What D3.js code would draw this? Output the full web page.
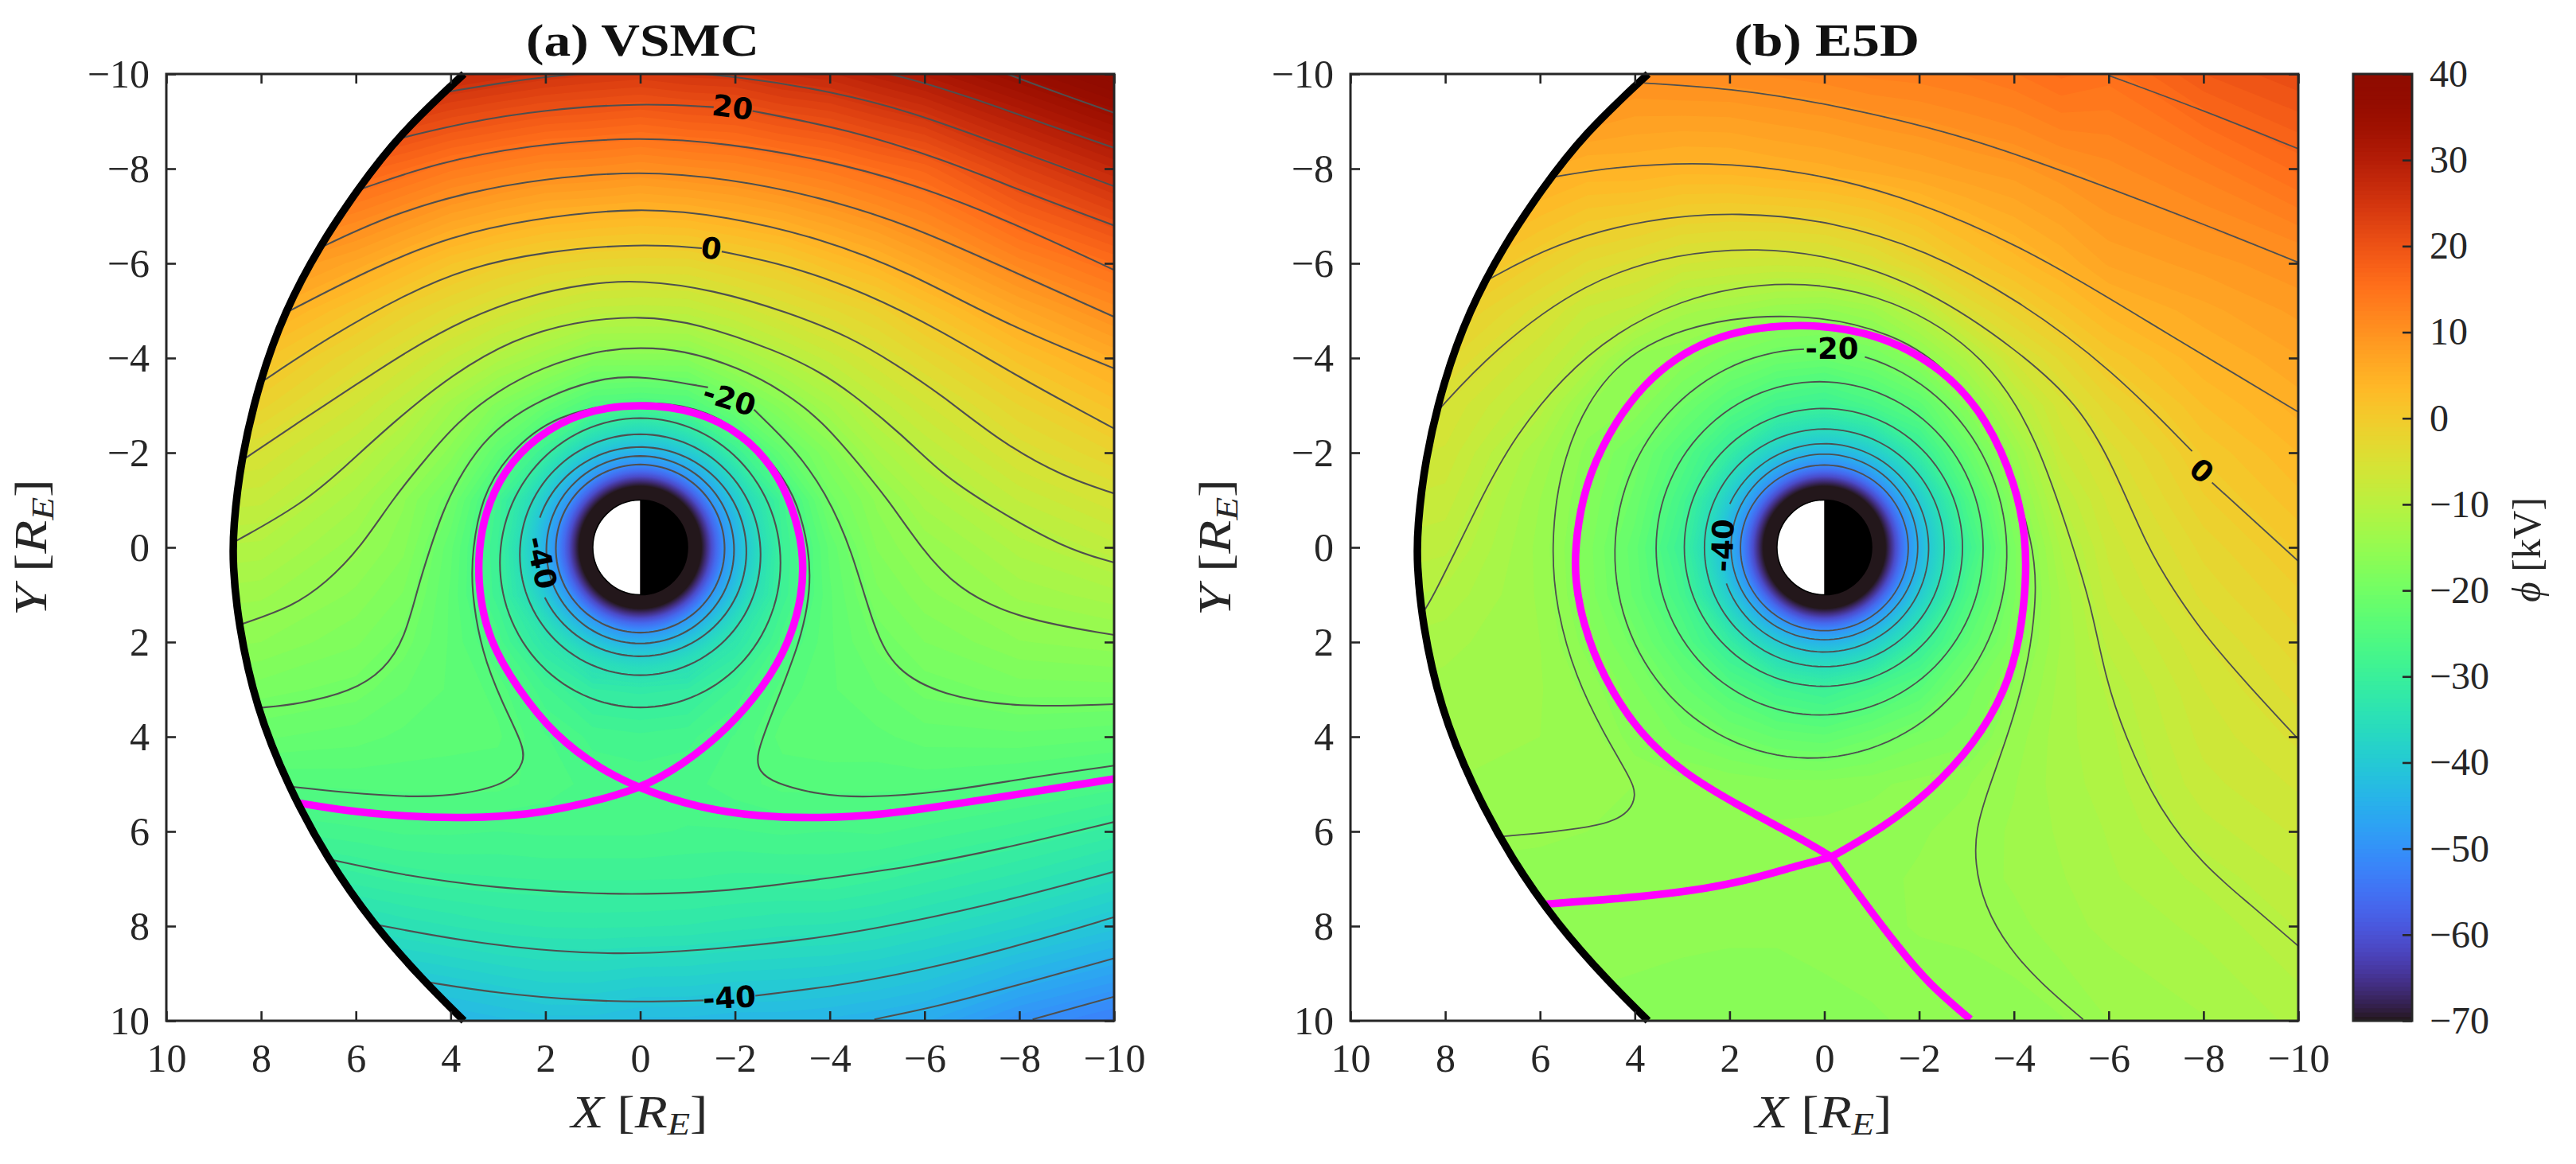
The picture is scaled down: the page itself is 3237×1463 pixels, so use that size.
<!DOCTYPE html>
<html><head><meta charset="utf-8">
<script src="https://cdn.jsdelivr.net/npm/d3@7"></script>
<style>
html,body{margin:0;padding:0;background:#fff;overflow:hidden}
text{font-family:"Liberation Serif",serif;fill:#262626}
</style></head><body>
<svg id="chart" width="3237" height="1463" viewBox="0 0 3237 1463"></svg>
<script>
// ---------- axes and tick values ----------
const tickValuesXY = [-10,-8,-6,-4,-2,0,2,4,6,8,10];
const colorTicks = [-70,-60,-50,-40,-30,-20,-10,0,10,20,30,40];
const colorDomain = [-70,40];
// ---------- potential phi [kV], one array per X node, in gridY order ----------
const gridX = [10,8,6,5,4,3,2,1,0,-1,-2,-3,-4,-5,-6,-8,-10];
const gridY = [-10,-8,-6,-5,-4,-3,-2,-1,0,1,2,3,4,5,6,7,8,10];
const fieldA = [
[34,24,13,8,3.5,0,-4,-7.5,-10.5,-13,-15.5,-18,-21,-24,-28,-33,-38,-50],
[30,20,10,6,1.7,-1.5,-5.3,-8.2,-11.1,-13.7,-16.2,-19,-21.5,-25,-28.5,-33,-38,-50],
[28,17.5,6.5,1.2,-2.9,-6.4,-9.7,-12.5,-14.7,-16.5,-18.2,-20,-22.3,-24.7,-27.5,-31,-35.8,-46],
[29,15.8,4,-1.3,-5.4,-9.3,-12.7,-16,-17,-18.5,-20,-21.6,-23.1,-24.6,-27,-30.2,-34.6,-45],
[27.5,13.8,1.5,-3.5,-8.2,-13.5,-16.7,-20.4,-22.5,-23,-23,-23,-23.5,-24.5,-27,-29.7,-33.8,-44],
[26.4,12.5,-.3,-5.5,-11.3,-17.8,-23,-28.5,-29.5,-29,-26.5,-24.3,-23.7,-24.6,-27.2,-29.5,-33,-43],
[25.4,11.3,-1.6,-7.5,-13.9,-21.6,-29.5,-39.5,-44.5,-41,-33.4,-28,-26,-25.5,-27,-29.3,-32.6,-42],
[24.7,11,-2.4,-9,-17,-25.6,-38,-70,-70,-70,-41,-31.5,-27.5,-26.5,-27,-29.3,-32.5,-42],
[24.2,10.3,-2.7,-9.3,-16.9,-26.5,-43.5,-70,-70,-70,-45.6,-32,-28,-26.5,-27,-29.3,-32.6,-43],
[25,11,-2.6,-9,-17,-25.6,-38,-70,-70,-70,-41,-31.5,-27.5,-26.5,-27.3,-29.4,-32.8,-43],
[25.3,11.6,-1.2,-7.2,-13.7,-20.9,-29.5,-39.5,-44.5,-41,-33.4,-28,-26,-25.5,-27.3,-29.7,-33.3,-43.5],
[26.8,12.8,0,-5.1,-10.6,-16.6,-22.3,-28.5,-29.5,-29,-26.5,-24.5,-23.5,-24.6,-27,-29.7,-33.8,-43.5],
[27.6,14,2.2,-3.3,-8,-12.7,-17.2,-20,-22.5,-23,-23,-23,-23.2,-24.5,-27.2,-29.5,-34,-44],
[29.5,15.7,4.2,-1.4,-5.4,-9.2,-12.4,-15.9,-17.2,-18.7,-20.3,-21.7,-23.1,-24.6,-27,-30.3,-34.6,-44.8],
[31.4,17.2,6.8,1.4,-2.9,-6.5,-9.7,-12.4,-14.9,-16.6,-18.4,-20.2,-22.3,-24.6,-27.6,-31.2,-35.7,-45.7],
[35.7,23,11.8,6.5,1.9,-1.9,-5,-8.4,-11.3,-13.7,-16.3,-19,-22,-25.4,-29,-33.2,-38,-50],
[40,27.7,15.7,10.7,5.9,1.9,-1.9,-5.5,-8.9,-12.2,-15.5,-18.9,-22.6,-26.6,-31,-35.8,-41,-53]
];
const fieldB = [
[18,12,5,2,-1,-4,-5.5,-7,-8.5,-10,-11.5,-12.5,-13.5,-14,-14.5,-15,-15.5,-16.5],
[16,10,3,0,-2.6,-5.2,-6.5,-7.9,-9.3,-11,-12.5,-13.3,-13.7,-14,-14.8,-15.3,-15.5,-16.5],
[14,6,-1,-4.7,-7.6,-10,-12.9,-14,-14.4,-14.2,-14,-13.9,-14,-14.2,-15,-15.3,-15.4,-16.4],
[12.5,4.7,-3.2,-7.8,-10.6,-15,-16.7,-17.4,-17.9,-17.7,-16.7,-15.4,-14.3,-14.3,-15.1,-15.2,-15.4,-16.6],
[10.6,4.8,-4.5,-8.9,-15.6,-16.3,-19.8,-21,-22.4,-22,-20,-18,-16.9,-15.1,-15.2,-15.3,-15.6,-16.8],
[11,4.2,-6.2,-12.5,-16.4,-20.4,-24.7,-27.5,-29.5,-27.5,-24.7,-21.3,-18.8,-15.8,-15.4,-15.5,-15.8,-17],
[11.1,4.3,-6.8,-13.6,-19,-24.5,-31,-39.5,-44,-39.5,-31,-24.8,-20.3,-16.4,-15.8,-15.7,-15.9,-17.2],
[11.5,5,-7.1,-15,-20.8,-28,-40,-70,-70,-70,-40,-28,-21.9,-16.8,-16,-15.8,-15.9,-17.2],
[12,5.5,-6.7,-15.4,-21.4,-29.4,-43,-70,-70,-70,-44,-29.5,-22.5,-16.8,-15.9,-15.6,-15.6,-16.8],
[12.7,6.3,-5,-13.9,-19.8,-26.9,-39.5,-70,-70,-70,-39.5,-27,-20.8,-16.5,-15.6,-15.3,-15.4,-16.4],
[13,7.1,-2.2,-9.8,-16.4,-23.4,-31,-39.5,-44,-39.5,-31,-24,-18.9,-15.8,-15.2,-15,-15,-15.9],
[13.6,8,.8,-4.5,-11.4,-16.9,-21.6,-26.5,-29.5,-26.5,-23,-19,-17.9,-15.2,-14.8,-14.7,-14.9,-15.7],
[14.5,8.7,3,-1.4,-6,-10.3,-14.4,-16.9,-18.7,-18.6,-17.5,-16,-14.7,-14.1,-13.8,-13.8,-14.4,-15.7],
[16,9.9,4.9,1.5,-2.7,-5.6,-7.4,-9.6,-11.6,-12.7,-12.8,-12.4,-12.2,-12.3,-12.7,-13,-13.3,-15.2],
[15.1,10.9,7.1,4,.7,-2.4,-4.7,-6,-7.1,-8,-9.3,-10.5,-11,-11.3,-11.7,-12,-12.6,-14],
[19,13,8.5,6.5,4.5,2.5,.5,-1,-2.6,-3.8,-5.3,-6.3,-7,-7.8,-9,-10.4,-11.5,-13],
[21,16,10,8.3,6.8,5.2,3.6,2.1,.5,-1,-2.3,-3.6,-4.9,-6.1,-7.2,-8.4,-9.5,-11.5]
];
// radial profile close to the Earth
const innerRadiiA  = [1,1.29,1.4,1.5,1.6,1.7,1.76,1.98,2.23,2.54,2.95];
const innerValuesA = [-70,-70,-66,-61,-56.5,-52.5,-50,-45,-40,-35,-30];
const innerRadiiB  = [1,1.29,1.4,1.5,1.6,1.7,1.76,1.96,2.2,2.52,2.93];
const innerValuesB = [-70,-70,-66,-61,-56.5,-52.5,-50,-45,-40,-35,-30];
const innerOpacity = [1,1,1,1,1,1,1,1,1,.8,0];
// ---------- boundary of the domain ----------
const boundary = [[3.72,-10],[5.08,-8.73],[5.98,-7.54],[6.76,-6.38],[7.5,-5],[8.04,-3.5],[8.43,-1.85],[8.59,-.4],[8.6,.35],[8.49,1.58],[8.11,3.38],[7.43,5.05],[6.6,6.59],[5.63,7.97],[4.57,9.16],[3.72,10]];
// ---------- contour lines: [level, points (X,Y)] ----------
const contoursA = [
[35,[[-7,-10.3],[-7.8,-9.97],[-8.93,-9.56],[-10,-9.18]]],
[30,[[-4.5,-10.15],[-5.49,-9.97],[-7,-9.5],[-8.6,-8.92],[-10,-8.44]]],
[25,[[4.02,-9.63],[3,-9.8],[1.98,-9.95],[0,-10.12],[-2.1,-9.95],[-4.04,-9.63],[-5.71,-9.21],[-7.64,-8.5],[-10,-7.63]]],
[20,[[4.99,-8.66],[3.67,-8.98],[2.06,-9.24],[0,-9.39],[-1.55,-9.3]]],
[20,[[-2.37,-9.22],[-4.42,-8.82],[-6.35,-8.21],[-8.28,-7.44],[-10,-6.8]]],
[15,[[5.89,-7.57],[4.31,-8.12],[2.38,-8.5],[0,-8.68],[-1.85,-8.53],[-3.78,-8.21],[-5.71,-7.7],[-7.64,-6.96],[-10,-5.86]]],
[10,[[6.69,-6.36],[5.28,-7.02],[3.67,-7.5],[2.06,-7.79],[0,-7.96],[-1.85,-7.79],[-3.78,-7.41],[-5.71,-6.8],[-7.64,-5.93],[-10,-4.87]]],
[5,[[7.43,-4.98],[5.6,-5.93],[3.99,-6.57],[2.38,-6.93],[0,-7.2],[-1.85,-6.99],[-3.78,-6.54],[-5.71,-5.8],[-7.64,-4.74],[-10,-3.78]]],
[0,[[7.98,-3.5],[6.56,-4.45],[4.95,-5.35],[3.67,-5.9],[2.06,-6.25],[0,-6.42],[-1.3,-6.32]]],
[0,[[-1.72,-6.25],[-3.14,-5.96],[-4.75,-5.38],[-6.35,-4.58],[-7.96,-3.61],[-10,-2.51]]],
[-5,[[8.38,-1.85],[7.2,-2.65],[6.11,-3.36],[4.95,-4.13],[3.67,-4.84],[2.38,-5.32],[1.1,-5.58],[0,-5.65],[-1.53,-5.45],[-3.14,-4.96],[-4.42,-4.45],[-5.39,-3.87],[-6.35,-3.23],[-7.64,-2.2],[-8.93,-1.49],[-10,-1.14]]],
[-10,[[8.52,-.14],[7.14,-.91],[6.24,-1.69],[5.21,-2.65],[3.93,-3.68],[2.7,-4.39],[1.42,-4.77],[0,-4.9],[-1.21,-4.74],[-2.95,-4.13],[-3.78,-3.71],[-4.42,-3.29],[-5.52,-2.39],[-6.35,-1.56],[-7.32,-.91],[-8.93,.02],[-10,.32]]],
[-15,[[8.41,1.62],[7.33,1.25],[6.62,.74],[5.92,.03],[5.21,-1.04],[4.57,-1.82],[3.86,-2.65],[3.03,-3.3],[2.06,-3.81],[.9,-4.16],[0,-4.23],[-.9,-4.17],[-2.06,-3.81],[-3.03,-3.3],[-3.86,-2.65],[-4.57,-1.81],[-5.21,-1.04],[-5.93,.02],[-6.68,.87],[-7.96,1.51],[-10,1.85]]],
[-20,[[8.04,3.39],[7.2,3.31],[6.11,3.05],[5.4,2.6],[4.96,1.9],[4.7,.87],[4.44,.04],[4.18,-.72],[3.86,-1.42],[3.35,-2.2],[2.7,-2.78],[1.74,-3.29],[.77,-3.58],[0,-3.63],[-1.43,-3.38]]],
[-20,[[-2.4,-2.91],[-3.27,-2.07],[-3.91,-1.17],[-4.46,.02],[-4.94,1.77],[-5.39,2.6],[-6.35,3.12],[-7.96,3.39],[-10,3.31]]],
[-25,[[7.41,5.05],[6.24,5.18],[4.7,5.29],[3.67,5.21],[2.77,4.98],[2.43,4.53],[2.48,4.15],[2.9,3.31],[3.35,2.22],[3.57,.87],[3.54,.04],[3.35,-1.04],[2.83,-1.94],[1.8,-2.84],[0,-3.11],[-1.21,-2.97],[-2.11,-2.49],[-2.95,-1.62],[-3.33,-.91],[-3.56,.02],[-3.6,.87],[-3.4,1.96],[-2.75,3.57],[-2.44,4.4],[-2.5,4.73],[-2.82,4.98],[-3.78,5.23],[-4.75,5.29],[-6.35,5.18],[-8.28,4.85],[-10,4.61]]],
[-30,[[6.56,6.59],[4.95,6.94],[3.03,7.2],[1.1,7.31],[0,7.33],[-1.85,7.27],[-3.78,7.01],[-5.71,6.75],[-7.64,6.37],[-10,5.8]]],
[-35,[[5.57,7.97],[3.67,8.33],[1.74,8.55],[0,8.6],[-1.85,8.46],[-3.78,8.26],[-5.71,7.91],[-7.64,7.49],[-10,6.85]]],
[-40,[[4.5,9.18],[3.03,9.42],[1.1,9.58],[0,9.6],[-1.34,9.57]]],
[-40,[[-2.43,9.47],[-4.42,9.23],[-6.35,8.84],[-8.28,8.33],[-10,7.81]]],
[-45,[[-4.94,9.97],[-6.35,9.68],[-8.28,9.16],[-10,8.68]]],
[-50,[[-8.28,9.97],[-10,9.49]]]
];
const contoursB = [
[15,[[-6,-9.97],[-8.03,-9.22],[-10,-8.42]]],
[10,[[3.8,-9.81],[1.78,-9.68],[-.18,-9.35],[-2.8,-8.75],[-5.41,-7.82],[-8.03,-6.82],[-10,-6.02]]],
[5,[[5.73,-7.82],[4.39,-8.05],[2.43,-8.15],[.47,-7.95],[-1.49,-7.49],[-4.1,-6.42],[-6.72,-4.83],[-10,-2.86]]],
[0,[[7.14,-5.63],[5.7,-6.42],[3.74,-6.95],[1.78,-7.09],[-.18,-6.89],[-2.14,-6.29],[-4.1,-5.23],[-6.07,-3.76],[-7.76,-2.03]]],
[0,[[-8.18,-1.37],[-10,.29]]],
[-5,[[8.18,-2.86],[7,-4.16],[5.05,-5.63],[3.08,-6.22],[1.39,-6.33],[-.18,-6.16],[-2.14,-5.49],[-4.1,-4.16],[-5.41,-2.97],[-6.1,-1.7],[-6.83,.03],[-7.35,.87],[-8,1.83],[-8.96,2.93],[-10,4.05]]],
[-10,[[8.44,1.33],[8.27,1.06],[7.76,.03],[7.4,-.7],[6.61,-2.3],[5.05,-4.16],[3.08,-5.29],[.73,-5.69],[-1.49,-5.29],[-3.45,-4.03],[-4.5,-2.3],[-5.26,.03],[-5.62,1.19],[-5.94,2.8],[-6.33,3.95],[-7.03,5.5],[-8,6.72],[-8.96,7.52],[-10,8.42]]],
[-15,[[6.86,6.11],[5.7,6.01],[4.74,5.88],[4.16,5.66],[3.95,5.24],[4.1,4.86],[4.68,3.89],[5.25,2.73],[5.64,1.38],[5.78,.03],[5.57,-1.9],[4.65,-3.76],[3.08,-4.69],[.67,-5],[-1.49,-4.56],[-2.8,-3.63],[-3.84,-1.9],[-4.43,-.04],[-4.48,.99],[-4.33,2.35],[-3.95,3.76],[-3.43,5.18],[-3.2,5.95],[-3.17,6.66],[-3.37,7.56],[-3.88,8.46],[-4.59,9.23],[-5.46,9.97]]]
];
// closed rings: [level, centreX, centreY, radiusX, radiusY, gapStartDeg, gapEndDeg]
const ringsA = [
[-30,0,.325,2.96,3.055],
[-35,0,.155,2.54,2.545],
[-40,0,.09,2.24,2.21,-18,26],
[-45,0,.05,1.98,1.98],
[-50,0,.025,1.78,1.775]
];
const ringsB = [
[-20,.285,.13,4.135,4.32,-104,-88],
[-25,.1,.02,3.45,3.52],
[-30,.02,0,2.935,2.935],
[-35,0,.01,2.53,2.51],
[-40,0,.01,2.2,2.2,-24,20],
[-45,0,-.01,1.97,1.96],
[-50,0,.01,1.77,1.75]
];
// ---------- separatrix (magenta) ----------
const separatrixA = [[7.27,5.39],[6.24,5.56],[4.95,5.69],[3.67,5.72],[2.38,5.66],[1.1,5.4],[0,5.1],[-.89,4.6],[-1.85,3.83],[-2.62,2.93],[-3.14,2.03],[-3.43,1],[-3.45,.03],[-3.2,-.91],[-2.82,-1.68],[-2.17,-2.39],[-1.21,-2.89],[0,-3.04],[1.21,-2.89],[2.2,-2.35],[2.9,-1.6],[3.28,-.72],[3.41,.04],[3.42,.87],[3.2,1.96],[2.58,3],[1.8,3.98],[.85,4.68],[0,5.1],[-1.21,5.5],[-2.5,5.69],[-3.78,5.72],[-5.07,5.66],[-7,5.37],[-10,4.89]];
const separatrixB = [[5.93,7.54],[4.42,7.43],[2.81,7.27],[1.52,7.01],[.56,6.72],[-.15,6.54],[-.15,6.54],[-1.24,5.92],[-2.21,5.18],[-3.17,4.15],[-3.82,3.05],[-4.14,1.9],[-4.26,.7],[-4.25,-.2],[-4.05,-1.3],[-3.45,-2.7],[-2.54,-3.76],[-1.1,-4.56],[.67,-4.76],[2.43,-4.49],[3.87,-3.5],[4.78,-2.03],[5.12,-1],[5.26,0],[5.26,.7],[5.1,1.6],[4.68,2.73],[3.9,3.95],[2.94,4.79],[1.85,5.43],[.88,5.95],[.24,6.3],[-.15,6.54],[-.15,6.54],[-.79,7.43],[-1.57,8.46],[-2.21,9.23],[-3.08,9.97]];
// ---------- inline contour labels: [text, X, Y, rotation] ----------
const labelsA = [["20",-1.95,-9.29,7],["0",-1.5,-6.31,8],["-20",-1.88,-3.13,17],["-40",-1.88,9.52,-3],["-40",2.09,.32,78]];
const labelsB = [["-20",-.16,-4.19,0],["0",-7.96,-1.61,40],["-40",2.14,-.04,-88]];
const titles = ["(a) VSMC","(b) E5D"];

// ---------- layout ----------
const svg = d3.select("#chart");
const panelTop = 93, panelBottom = 1283;
const panels = [
 {left:209,right:1400,field:fieldA,contours:contoursA,rings:ringsA,sep:separatrixA,labels:labelsA,radii:innerRadiiA,vals:innerValuesA,title:titles[0],tw:293,lw:2.1,id:"a"},
 {left:1697,right:2888,field:fieldB,contours:contoursB,rings:ringsB,sep:separatrixB,labels:labelsB,radii:innerRadiiB,vals:innerValuesB,title:titles[1],tw:233,lw:1.8,id:"b"}
];
const color = v => d3.interpolateTurbo((Math.max(colorDomain[0],Math.min(colorDomain[1],v))-colorDomain[0])/(colorDomain[1]-colorDomain[0]));
const bandStep = 1.1;
const bands = d3.range(-80,45,bandStep);
const curve = d3.curveBasis;

panels.forEach(p=>{
  const x = d3.scaleLinear().domain([10,-10]).range([p.left,p.right]);
  const y = d3.scaleLinear().domain([-10,10]).range([panelTop,panelBottom]);
  const g = svg.append("g");
  const line = d3.line().x(d=>x(d[0])).y(d=>y(d[1])).curve(curve);
  const defs = svg.append("defs");
  defs.append("clipPath").attr("id","clip-"+p.id).append("path")
    .attr("d",line(boundary)+"L"+x(-10)+","+y(10)+"L"+x(-10)+","+y(-10)+"Z");
  const rMax = p.radii[p.radii.length-1];
  const grad = defs.append("radialGradient").attr("id","inner-"+p.id).attr("gradientUnits","userSpaceOnUse")
    .attr("cx",x(0)).attr("cy",y(0)).attr("r",x(0)-x(rMax));
  p.radii.forEach((r,i)=>grad.append("stop").attr("offset",r/rMax).attr("stop-color",color(p.vals[i])).attr("stop-opacity",innerOpacity[i]));

  // filled field
  const n = gridX.length, m = gridY.length;
  const values = [];
  gridY.forEach((_,j)=>gridX.forEach((_,i)=>values.push(p.field[i][j])));
  const ix = d3.scaleLinear().domain(d3.range(n)).range(gridX).clamp(true);
  const iy = d3.scaleLinear().domain(d3.range(m)).range(gridY).clamp(true);
  const geo = d3.geoPath(d3.geoTransform({point(a,b){this.stream.point(x(ix(a-.5)),y(iy(b-.5)));}}));
  const conts = d3.contours().size([n,m]).thresholds(bands)(values);
  const clipped = g.append("g").attr("clip-path","url(#clip-"+p.id+")");
  clipped.append("g").selectAll("path").data(conts).join("path")
    .attr("d",geo).attr("fill",d=>color(d.value+bandStep/2));
  clipped.append("circle").attr("cx",x(0)).attr("cy",y(0)).attr("r",x(0)-x(rMax)).attr("fill","url(#inner-"+p.id+")");

  // contour lines
  const lines = clipped.append("g").attr("fill","none").attr("stroke","#4f4f4f").attr("stroke-width",p.lw);
  lines.selectAll("path.c").data(p.contours).join("path").attr("class","c").attr("d",d=>line(d[1]));
  const ringPath = r=>{
    const [lv,cx,cy,rx,ry,g0,g1] = r;
    const start = g1===undefined?-180:g1, end = g1===undefined?180:g0+360;
    const pts = d3.range(start,end+.01,3).map(a=>{const t=a*Math.PI/180;return [cx+rx*Math.cos(t),cy+ry*Math.sin(t)];});
    return d3.line().x(d=>x(d[0])).y(d=>y(d[1]))(pts)+(g1===undefined?"Z":"");
  };
  lines.selectAll("path.r").data(p.rings).join("path").attr("class","r").attr("d",ringPath);

  // separatrix
  clipped.append("path").attr("d",line(p.sep)).attr("fill","none").attr("stroke","#ff00ff").attr("stroke-width",9.5);

  // inline labels
  g.append("g").selectAll("text").data(p.labels).join("text")
    .attr("transform",d=>`translate(${x(d[1])},${y(d[2])}) rotate(${d[3]})`)
    .attr("text-anchor","middle").attr("dominant-baseline","central")
    .style("font-family","'DejaVu Sans',sans-serif").style("font-weight","bold").style("font-size","37px").style("fill","#000")
    .text(d=>d[0]);

  // boundary line
  g.append("path").attr("d",line(boundary)).attr("fill","none").attr("stroke","#000").attr("stroke-width",9.5);

  // Earth: dayside white, nightside black
  const arc = d3.arc().innerRadius(0).outerRadius(x(0)-x(1));
  const earth = g.append("g").attr("transform",`translate(${x(0)},${y(0)})`);
  earth.append("path").attr("d",arc({startAngle:Math.PI,endAngle:2*Math.PI})).attr("fill","#fff");
  earth.append("path").attr("d",arc({startAngle:0,endAngle:Math.PI})).attr("fill","#000");
  earth.append("circle").attr("r",x(0)-x(1)).attr("fill","none").attr("stroke","#000").attr("stroke-width",1.5);

  // axes: ticks point inwards on all four sides
  const fmt = d3.format("d");
  const ax = svg.append("g").attr("class","axes");
  const tick = sel=>{sel.select(".domain").remove();sel.selectAll("line").attr("stroke","#262626").attr("stroke-width",2.6);
     sel.selectAll("text").style("font-size","50px").style("fill","#262626").attr("font-family",null);};
  ax.append("g").attr("transform",`translate(0,${panelBottom})`).call(d3.axisBottom(x).tickValues(tickValuesXY).tickFormat(fmt).tickSizeInner(-12).tickSizeOuter(0).tickPadding(28)).call(tick);
  ax.append("g").attr("transform",`translate(0,${panelTop})`).call(d3.axisTop(x).tickValues(tickValuesXY).tickFormat("").tickSizeInner(-12).tickSizeOuter(0)).call(tick);
  ax.append("g").attr("transform",`translate(${p.left},0)`).call(d3.axisLeft(y).tickValues(tickValuesXY).tickFormat(fmt).tickSizeInner(-12).tickSizeOuter(0).tickPadding(21)).call(tick);
  ax.append("g").attr("transform",`translate(${p.right},0)`).call(d3.axisRight(y).tickValues(tickValuesXY).tickFormat("").tickSizeInner(-12).tickSizeOuter(0)).call(tick);
  ax.append("rect").attr("x",p.left).attr("y",panelTop).attr("width",p.right-p.left).attr("height",panelBottom-panelTop).attr("fill","none").attr("stroke","#262626").attr("stroke-width",3);

  // title
  svg.append("text").attr("x",(p.left+p.right)/2+3).attr("y",70).attr("text-anchor","middle")
    .attr("textLength",p.tw).attr("lengthAdjust","spacingAndGlyphs")
    .style("font-size","58px").style("font-weight","bold").style("fill","#111").text(p.title);

  // axis titles
  const addLabel = (sel,letter)=>{
    sel.attr("text-anchor","middle").attr("textLength",172).attr("lengthAdjust","spacingAndGlyphs").style("font-size","58px");
    sel.append("tspan").style("font-style","italic").text(letter);
    sel.append("tspan").text(" [");
    sel.append("tspan").style("font-style","italic").text("R");
    sel.append("tspan").style("font-style","italic").style("font-size","40px").attr("dy",9).text("E");
    sel.append("tspan").attr("dy",-9).text("]");
  };
  addLabel(svg.append("text").attr("x",(p.left+p.right)/2-1).attr("y",1417),"X");
  addLabel(svg.append("text").attr("transform",`translate(${p.left-151},${(panelTop+panelBottom)/2}) rotate(-90)`),"Y");
});

// ---------- colour bar ----------
const cbLeft = 2957, cbRight = 3031;
const cy = d3.scaleLinear().domain(colorDomain).range([panelBottom,panelTop]);
const cbStep = .5;
svg.append("g").selectAll("rect").data(d3.range(colorDomain[0],colorDomain[1],cbStep)).join("rect")
  .attr("x",cbLeft).attr("width",cbRight-cbLeft)
  .attr("y",d=>cy(d+cbStep)-.5).attr("height",d=>cy(d)-cy(d+cbStep)+1)
  .attr("fill",d=>color(d+cbStep/2));
const cbAxis = svg.append("g").attr("transform",`translate(${cbRight},0)`)
  .call(d3.axisRight(cy).tickValues(colorTicks).tickFormat(d3.format("d")).tickSizeInner(-12).tickSizeOuter(0).tickPadding(22));
cbAxis.select(".domain").remove();
cbAxis.selectAll("line").attr("stroke","#262626").attr("stroke-width",2.6);
cbAxis.selectAll("text").style("font-size","48px").style("fill","#262626").attr("font-family",null);
svg.append("rect").attr("x",cbLeft).attr("y",panelTop).attr("width",cbRight-cbLeft).attr("height",panelBottom-panelTop).attr("fill","none").attr("stroke","#262626").attr("stroke-width",3);
const cl = svg.append("text").attr("transform",`translate(3192,691) rotate(-90)`).attr("text-anchor","middle")
  .attr("textLength",132).attr("lengthAdjust","spacingAndGlyphs").style("font-size","50px");
cl.append("tspan").style("font-style","italic").text("ϕ");
cl.append("tspan").text(" [kV]");
</script>
</body></html>
